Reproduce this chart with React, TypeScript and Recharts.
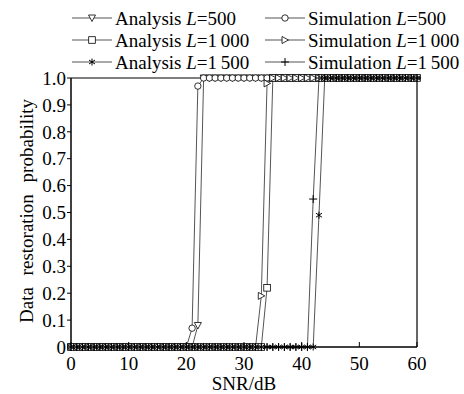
import { LineChart, Line, XAxis, YAxis, ReferenceLine, Label } from "recharts";

const snr = [
  0, 1, 2, 3, 4, 5, 6, 7, 8, 9,
  10, 11, 12, 13, 14, 15, 16, 17, 18, 19,
  20, 21, 22, 23, 24, 25, 26, 27, 28, 29,
  30, 31, 32, 33, 34, 35, 36, 37, 38, 39,
  40, 41, 42, 43, 44, 45, 46, 47, 48, 49,
  50, 51, 52, 53, 54, 55, 56, 57, 58, 59,
  60,
];

const anaL500 = [
  0, 0, 0, 0, 0, 0, 0, 0, 0, 0,
  0, 0, 0, 0, 0, 0, 0, 0, 0, 0,
  0, 0, 0.08, 1, 1, 1, 1, 1, 1, 1,
  1, 1, 1, 1, 1, 1, 1, 1, 1, 1,
  1, 1, 1, 1, 1, 1, 1, 1, 1, 1,
  1, 1, 1, 1, 1, 1, 1, 1, 1, 1,
  1,
];
const simL500 = [
  0, 0, 0, 0, 0, 0, 0, 0, 0, 0,
  0, 0, 0, 0, 0, 0, 0, 0, 0, 0,
  0, 0.07, 0.97, 1, 1, 1, 1, 1, 1, 1,
  1, 1, 1, 1, 1, 1, 1, 1, 1, 1,
  1, 1, 1, 1, 1, 1, 1, 1, 1, 1,
  1, 1, 1, 1, 1, 1, 1, 1, 1, 1,
  1,
];
const anaL1000 = [
  0, 0, 0, 0, 0, 0, 0, 0, 0, 0,
  0, 0, 0, 0, 0, 0, 0, 0, 0, 0,
  0, 0, 0, 0, 0, 0, 0, 0, 0, 0,
  0, 0, 0, 0, 0.22, 1, 1, 1, 1, 1,
  1, 1, 1, 1, 1, 1, 1, 1, 1, 1,
  1, 1, 1, 1, 1, 1, 1, 1, 1, 1,
  1,
];
const simL1000 = [
  0, 0, 0, 0, 0, 0, 0, 0, 0, 0,
  0, 0, 0, 0, 0, 0, 0, 0, 0, 0,
  0, 0, 0, 0, 0, 0, 0, 0, 0, 0,
  0, 0, 0, 0.19, 0.98, 1, 1, 1, 1, 1,
  1, 1, 1, 1, 1, 1, 1, 1, 1, 1,
  1, 1, 1, 1, 1, 1, 1, 1, 1, 1,
  1,
];
const anaL1500 = [
  0, 0, 0, 0, 0, 0, 0, 0, 0, 0,
  0, 0, 0, 0, 0, 0, 0, 0, 0, 0,
  0, 0, 0, 0, 0, 0, 0, 0, 0, 0,
  0, 0, 0, 0, 0, 0, 0, 0, 0, 0,
  0, 0, 0, 0.49, 1, 1, 1, 1, 1, 1,
  1, 1, 1, 1, 1, 1, 1, 1, 1, 1,
  1,
];
const simL1500 = [
  0, 0, 0, 0, 0, 0, 0, 0, 0, 0,
  0, 0, 0, 0, 0, 0, 0, 0, 0, 0,
  0, 0, 0, 0, 0, 0, 0, 0, 0, 0,
  0, 0, 0, 0, 0, 0, 0, 0, 0, 0,
  0, 0, 0.55, 1, 1, 1, 1, 1, 1, 1,
  1, 1, 1, 1, 1, 1, 1, 1, 1, 1,
  1,
];

const xTicks = [0, 10, 20, 30, 40, 50, 60];
const yTicks = [0, 0.1, 0.2, 0.3, 0.4, 0.5, 0.6, 0.7, 0.8, 0.9, 1.0];

const FONT = "'Liberation Serif', 'Times New Roman', serif";
const LINE = "#555";

type Shape = "triDown" | "circle" | "square" | "triRight" | "star" | "plus";

const build = (vals: number[]) => snr.map((s, i) => ({ snr: s, p: vals[i] }));

const series: { key: string; label: string; L: string; shape: Shape; values: number[] }[] = [
  { key: "aL500", label: "Analysis ", L: "=500", shape: "triDown", values: anaL500 },
  { key: "sL500", label: "Simulation ", L: "=500", shape: "circle", values: simL500 },
  { key: "aL1000", label: "Analysis ", L: "=1\u2009000", shape: "square", values: anaL1000 },
  { key: "sL1000", label: "Simulation ", L: "=1\u2009000", shape: "triRight", values: simL1000 },
  { key: "aL1500", label: "Analysis ", L: "=1\u2009500", shape: "star", values: anaL1500 },
  { key: "sL1500", label: "Simulation ", L: "=1\u2009500", shape: "plus", values: simL1500 },
];

function Marker({ shape, cx, cy }: { shape: Shape; cx: number; cy: number }) {
  const st = { stroke: "#000", strokeWidth: 0.8, fill: "#fff" };
  switch (shape) {
    case "triDown":
      return <polygon points={`${cx - 3.5},${cy - 3} ${cx + 3.5},${cy - 3} ${cx},${cy + 3.5}`} {...st} />;
    case "circle":
      return <circle cx={cx} cy={cy} r={3.2} {...st} />;
    case "square":
      return <rect x={cx - 3.3} y={cy - 3.3} width={6.6} height={6.6} {...st} />;
    case "triRight":
      return <polygon points={`${cx - 3},${cy - 3.5} ${cx - 3},${cy + 3.5} ${cx + 3.5},${cy}`} {...st} />;
    case "star":
      return (
        <g stroke="#000" strokeWidth={1}>
          <line x1={cx} y1={cy - 3.5} x2={cx} y2={cy + 3.5} />
          <line x1={cx - 3} y1={cy - 2} x2={cx + 3} y2={cy + 2} />
          <line x1={cx - 3} y1={cy + 2} x2={cx + 3} y2={cy - 2} />
        </g>
      );
    case "plus":
      return (
        <g stroke="#000" strokeWidth={1}>
          <line x1={cx} y1={cy - 4} x2={cx} y2={cy + 4} />
          <line x1={cx - 4} y1={cy} x2={cx + 4} y2={cy} />
        </g>
      );
  }
  return null;
}

const XTick = (props: any) => {
  const { x, y, payload } = props;
  return (
    <g>
      <line x1={x} y1={347} x2={x} y2={342} stroke="#000" strokeWidth={1} />
      <text x={x} y={y} dy="0.71em" textAnchor="middle" fontFamily={FONT} fontSize={19} fill="#000">
        {payload.value}
      </text>
    </g>
  );
};

const fmtY = (v: number) => (v === 0 ? "0" : v.toFixed(1));

function LegendOverlay() {
  const rows = [18, 40, 62];
  const cols = [
    { x1: 72, x2: 112, tx: 115 },
    { x1: 265, x2: 305, tx: 308 },
  ];
  return (
    <svg width={464} height={80} style={{ position: "absolute", left: 0, top: 0 }}>
      {series.map((s, i) => {
        const r = rows[Math.floor(i / 2)];
        const c = cols[i % 2];
        const mx = (c.x1 + c.x2) / 2;
        return (
          <g key={s.key}>
            <line x1={c.x1} y1={r} x2={c.x2} y2={r} stroke={LINE} strokeWidth={1.2} />
            <Marker shape={s.shape} cx={mx} cy={r} />
            <text x={c.tx} y={r + 7} fontFamily={FONT} fontSize={19} fill="#000">
              {s.label}
              <tspan fontStyle="italic">L</tspan>
              {s.L}
            </text>
          </g>
        );
      })}
    </svg>
  );
}

export default function App() {
  return (
    <div style={{ position: "absolute", left: 0, top: 0, width: 464, height: 394, background: "#fff" }}>
      <LineChart width={464} height={394} margin={{ top: 78, right: 47, bottom: 0, left: 0 }}>
        <XAxis
          dataKey="snr"
          type="number"
          domain={[0, 60]}
          ticks={xTicks}
          interval={0}
          height={47}
          tick={<XTick />}
          tickLine={false}
          tickSize={0}
          tickMargin={10}
          axisLine={{ stroke: "#000", strokeWidth: 1.5 }}
          allowDuplicatedCategory={false}
        >
          <Label
            content={() => (
              <text x={244} y={390} textAnchor="middle" fontFamily={FONT} fontSize={19} fill="#000">
                SNR/dB
              </text>
            )}
          />
        </XAxis>
        <YAxis
          type="number"
          domain={[0, 1]}
          ticks={yTicks}
          interval={0}
          width={71}
          tickFormatter={fmtY}
          tickSize={4}
          tickMargin={1}
          tick={{ fontFamily: FONT, fontSize: 19, fill: "#000" }}
          tickLine={{ stroke: "#000" }}
          axisLine={{ stroke: "#000", strokeWidth: 1.5 }}
        >
          <Label
            content={() => (
              <text
                transform="translate(33,211) rotate(-90)"
                textAnchor="middle"
                fontFamily={FONT}
                fontSize={19}
                wordSpacing={7}
                fill="#000"
              >
                Data restoration probability
              </text>
            )}
          />
        </YAxis>
        <ReferenceLine y={1} stroke="#000" strokeWidth={1.2} />
        <ReferenceLine x={60} stroke="#333" strokeWidth={1.5} />
        {series.map((s) => (
          <Line
            key={s.key}
            data={build(s.values)}
            dataKey="p"
            type="linear"
            stroke={LINE}
            strokeWidth={1}
            isAnimationActive={false}
            dot={(p: any) => (
              <g key={`${s.key}-${p.index}`}>
                <Marker shape={s.shape} cx={p.cx} cy={p.cy} />
              </g>
            )}
            activeDot={false}
          />
        ))}
      </LineChart>
      <LegendOverlay />
    </div>
  );
}
